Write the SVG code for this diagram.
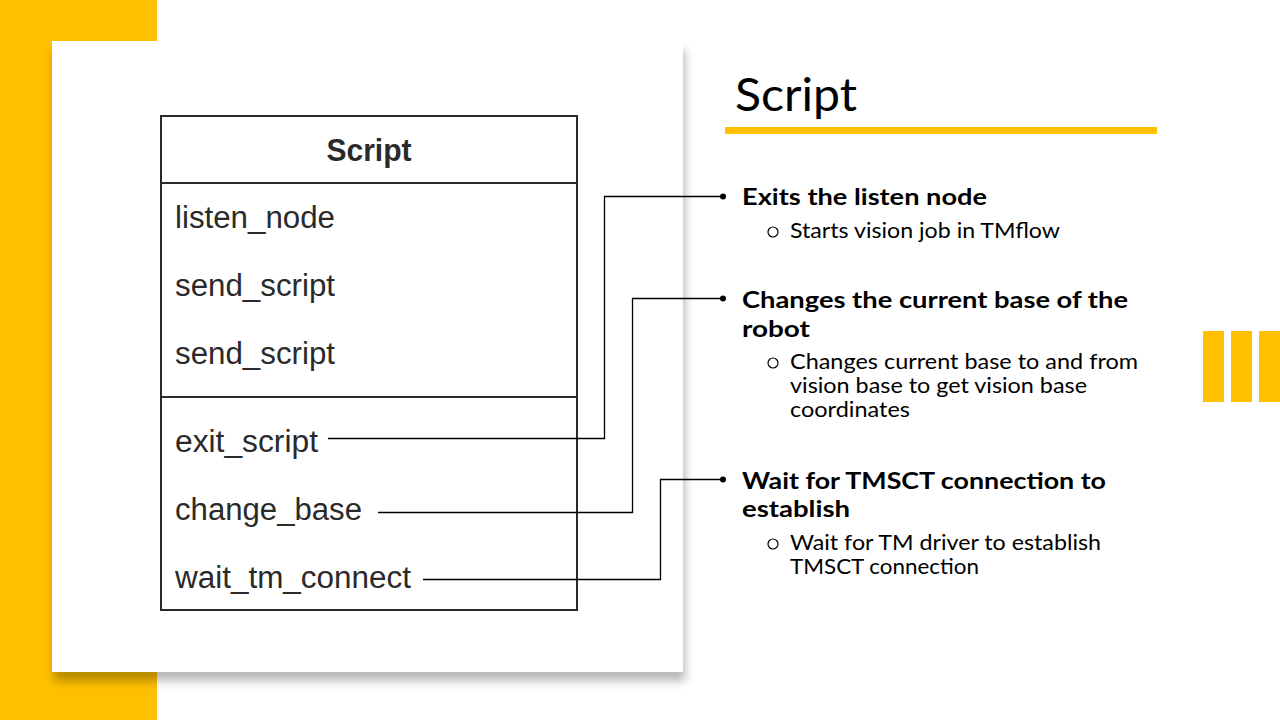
<svg xmlns="http://www.w3.org/2000/svg" width="1280" height="720" viewBox="0 0 1280 720">
<defs>
<filter id="sh" x="-10%" y="-10%" width="130%" height="130%">
<feDropShadow dx="2" dy="9" stdDeviation="5" flood-color="#000" flood-opacity="0.28"/>
</filter>
</defs>
<style>
.y{fill:#FFC000}
.uml{font-family:"Liberation Sans",Arial,sans-serif;fill:#2a2a2a;font-size:31px}
.b{font-family:Lato,"Open Sans",sans-serif;font-weight:bold;font-size:23px;fill:#000}
.s{font-family:Lato,"Open Sans",sans-serif;font-size:21px;fill:#000}
.o{fill:none;stroke:#000;stroke-width:1.2}
.ln{fill:none;stroke:#000;stroke-width:1.3}
</style>
<rect width="1280" height="720" fill="#fff"/>
<rect class="y" x="0" y="0" width="157" height="720"/>
<rect x="52" y="41" width="631" height="631" fill="#fff" filter="url(#sh)"/>
<g id="title">
<text x="735" y="111" font-family="Lato,'Open Sans',sans-serif" font-size="46" fill="#000" textLength="122" lengthAdjust="spacingAndGlyphs">Script</text>
<rect class="y" x="725" y="127" width="432" height="7"/>
</g>
<g id="stripes">
<rect class="y" x="1203" y="331" width="21" height="71"/>
<rect class="y" x="1231" y="331" width="21" height="71"/>
<rect class="y" x="1259" y="331" width="21" height="71"/>
</g>
<g id="script-class">
<rect x="161" y="116" width="416" height="494" fill="#fff" stroke="#2a2a2a" stroke-width="2"/>
<line x1="161" y1="183" x2="577" y2="183" stroke="#2a2a2a" stroke-width="2"/>
<line x1="161" y1="397" x2="577" y2="397" stroke="#2a2a2a" stroke-width="2"/>
<text class="uml" x="369" y="161" text-anchor="middle" font-weight="bold" textLength="85" lengthAdjust="spacingAndGlyphs">Script</text>
<text class="uml" x="175" y="228" textLength="160" lengthAdjust="spacingAndGlyphs">listen_node</text>
<text class="uml" x="175" y="296" textLength="160" lengthAdjust="spacingAndGlyphs">send_script</text>
<text class="uml" x="175" y="364" textLength="160" lengthAdjust="spacingAndGlyphs">send_script</text>
<text class="uml" x="175" y="452" textLength="143" lengthAdjust="spacingAndGlyphs">exit_script</text>
<text class="uml" x="175" y="520" textLength="187" lengthAdjust="spacingAndGlyphs">change_base</text>
<text class="uml" x="175" y="588" textLength="236" lengthAdjust="spacingAndGlyphs">wait_tm_connect</text>
</g>
<g id="connectors">
<polyline class="ln" points="328,438.5 604.5,438.5 604.5,196.5 722,196.5"/>
<polyline class="ln" points="378,512.5 632.5,512.5 632.5,298.5 722,298.5"/>
<polyline class="ln" points="423,579.5 660.5,579.5 660.5,479.5 722,479.5"/>
</g>
<g id="bullet-exit">
<circle cx="723" cy="196.5" r="3"/>
<text class="b" x="742" y="205" textLength="245" lengthAdjust="spacingAndGlyphs">Exits the listen node</text>
<circle class="o" cx="773" cy="232" r="5"/>
<text class="s" x="790" y="238" textLength="270" lengthAdjust="spacingAndGlyphs">Starts vision job in TMflow</text>
</g>
<g id="bullet-base">
<circle cx="723" cy="298.5" r="3"/>
<text class="b" x="742" y="308" textLength="386" lengthAdjust="spacingAndGlyphs">Changes the current base of the</text>
<text class="b" x="742" y="337" textLength="68" lengthAdjust="spacingAndGlyphs">robot</text>
<circle class="o" cx="773" cy="363" r="5"/>
<text class="s" x="790" y="369" textLength="348" lengthAdjust="spacingAndGlyphs">Changes current base to and from</text>
<text class="s" x="790" y="393" textLength="297" lengthAdjust="spacingAndGlyphs">vision base to get vision base</text>
<text class="s" x="790" y="417" textLength="120" lengthAdjust="spacingAndGlyphs">coordinates</text>
</g>
<g id="bullet-wait">
<circle cx="723" cy="479.5" r="3"/>
<text class="b" x="742" y="489" textLength="364" lengthAdjust="spacingAndGlyphs">Wait for TMSCT connection to</text>
<text class="b" x="742" y="517" textLength="108" lengthAdjust="spacingAndGlyphs">establish</text>
<circle class="o" cx="773" cy="544" r="5"/>
<text class="s" x="790" y="550" textLength="311" lengthAdjust="spacingAndGlyphs">Wait for TM driver to establish</text>
<text class="s" x="790" y="574" textLength="189" lengthAdjust="spacingAndGlyphs">TMSCT connection</text>
</g>
</svg>
